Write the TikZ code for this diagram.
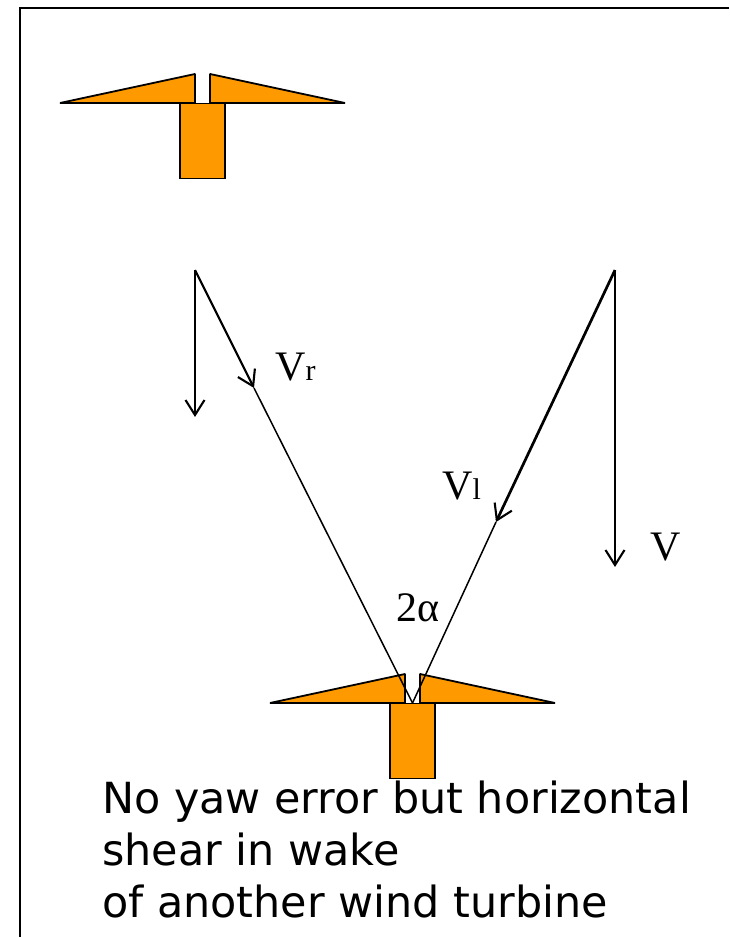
\documentclass[tikz,border=0pt]{standalone}
\usepackage{fontspec}
\setmainfont{Liberation Serif}
\newfontfamily\captionfont{DejaVu Sans}
\usetikzlibrary{arrows.meta, positioning}
\newcommand{\lowsub}[1]{{\fontsize{30}{30}\selectfont #1}}
\pgfdeclarearrow{
  name=OpenVee,
  setup code={
    \pgfarrowssettipend{0pt}
    \pgfarrowssetlineend{-2pt}
    \pgfarrowssetvisualbackend{-2pt}
    \pgfarrowssetbackend{-17pt}
    \pgfarrowshullpoint{0pt}{0pt}
    \pgfarrowshullpoint{-17pt}{10pt}
    \pgfarrowshullpoint{-17pt}{-10pt}
  },
  drawing code={
    \pgfsetlinewidth{2.1pt}
    \pgfsetdash{}{0pt}
    \pgfsetmiterjoin
    \pgfpathmoveto{\pgfqpoint{-17pt}{9.5pt}}
    \pgfpathlineto{\pgfqpoint{-2pt}{0pt}}
    \pgfpathlineto{\pgfqpoint{-17pt}{-9.5pt}}
    \pgfusepathqstroke
  },
}
\tikzset{
  frameline/.style={line width=2pt, draw=black},
  blade/.style={draw=black, fill=orangeblade, line width=1.8pt, line join=bevel},
  tower/.style={rectangle, draw=black, fill=orangeblade, line width=1.5pt,
                minimum width=45pt, minimum height=75pt, inner sep=0pt},
  arrow/.style={-OpenVee, line width=2.2pt, draw=black},
  arrowheavy/.style={arrow, line width=2.7pt},
  thin line/.style={line width=1.5pt, draw=black},
  vlabel/.style={anchor=base west, inner sep=0pt, font=\fontsize{42}{42}\selectfont},
  captiontext/.style={anchor=north west, inner sep=0pt, align=left,
                      font=\captionfont\fontsize{42.9}{52}\selectfont},
}
\definecolor{orangeblade}{HTML}{FF9900}

\begin{document}
\begin{tikzpicture}[x=1pt, y=-1pt]
  \useasboundingbox (0,0) rectangle (729,937);

  % frame
  \coordinate (framecorner) at (20,8);
  \coordinate (frameright) at (729,8);
  \coordinate (framebottom) at (20,937);
  \draw[frameline] (frameright) -- (framecorner) -- (framebottom);

  % upstream turbine
  \draw[blade] (60,103) -- (195,74) -- (195,103) -- cycle;
  \draw[blade] (345,103) -- (210,74) -- (210,103) -- cycle;
  \node[tower] (towerup) at (202.5,141) {};

  % downstream turbine
  \draw[blade] (270,703) -- (405,674) -- (405,703) -- cycle;
  \draw[blade] (555,703) -- (420,674) -- (420,703) -- cycle;
  \node[tower] (towerdown) at (412.5,741) {};

  % velocity triangle
  \coordinate (hub) at (412.5,703);
  \coordinate (startr) at (195,270);
  \coordinate (startl) at (615,270);
  \coordinate (endr) at (195,417);
  \coordinate (tipr) at (254,388);
  \coordinate (tipl) at (496,522);
  \coordinate (endv) at (615,567);

  \draw[thin line] (tipr) -- (hub);
  \draw[thin line] (tipl) -- (hub);
  \draw[arrow] (startr) -- (endr);
  \draw[arrow] (startr) -- (tipr);
  \draw[arrowheavy] (startl) -- (tipl);
  \draw[arrow] (startl) -- (endv);

  % labels
  \node[vlabel] (labelr) at (275,380) {V\lowsub{r}};
  \node[vlabel] (labell) at (442,499) {V\lowsub{l}};
  \node[vlabel] (labelv) at (650,560) {V};
  \node[vlabel] (labelangle) at (396,621) {2α};

  \node[captiontext] (caption) at (102,781)
    {No yaw error but horizontal\\shear in wake\\of another wind turbine};
\end{tikzpicture}
\end{document}
